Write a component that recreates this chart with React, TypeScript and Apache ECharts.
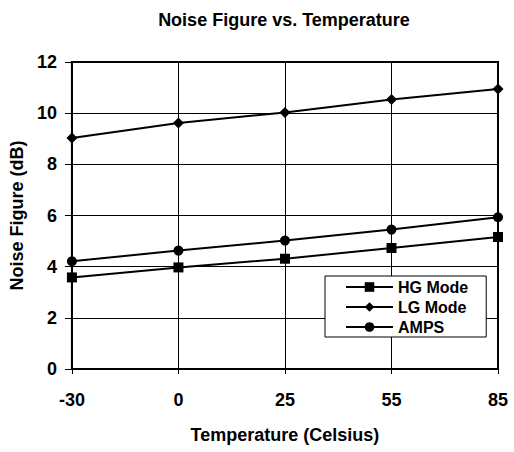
import React, { useEffect, useRef } from "react";
import * as echarts from "echarts";

const categories = ["-30", "0", "25", "55", "85"];
const hgMode = [3.58, 3.97, 4.31, 4.73, 5.16];
const lgMode = [9.03, 9.62, 10.03, 10.53, 10.94];
const amps = [4.21, 4.63, 5.02, 5.45, 5.93];
const seriesNames = ["HG Mode", "LG Mode", "AMPS"];

const FONT = "'Liberation Sans', Arial, sans-serif";

export default function App() {
  const ref = useRef<HTMLDivElement>(null);
  useEffect(() => {
    if (!ref.current) return;
    const chart = echarts.init(ref.current, null, { renderer: "svg" });
    const mk = (name: string, data: number[], symbol: string, size: number) => ({
      name,
      type: "line",
      data,
      symbol,
      symbolSize: size,
      showAllSymbol: true,
      lineStyle: { color: "#000", width: 2 },
      itemStyle: { color: "#000" },
      emphasis: { disabled: true },
    });
    const txt = { fontFamily: FONT, fontWeight: "bold", fontSize: 18, color: "#000" };
    chart.setOption({
      animation: false,
      backgroundColor: "#fff",
      textStyle: { fontFamily: FONT },
      title: {
        text: "Noise Figure vs. Temperature",
        left: 279,
        textAlign: "center",
        top: 6,
        textStyle: txt,
      },
      grid: {
        left: 67,
        right: 16,
        top: 62,
        bottom: 83,
        show: true,
        borderColor: "#000",
        borderWidth: 2,
        backgroundColor: "transparent",
      },
      legend: {
        orient: "vertical",
        left: 325,
        top: 276,
        data: seriesNames,
        itemWidth: 47,
        itemHeight: 12,
        itemGap: 4,
        padding: [3, 18, 2, 20],
        backgroundColor: "#fff",
        borderColor: "#000",
        borderWidth: 1,
        borderRadius: 0,
        textStyle: { fontFamily: FONT, fontWeight: "bold", fontSize: 16, color: "#000", padding: [0, 0, 0, 0] },
      },
      xAxis: {
        type: "category",
        data: categories,
        boundaryGap: false,
        name: "Temperature (Celsius)",
        nameLocation: "middle",
        nameGap: 57,
        nameTextStyle: txt,
        axisLine: { lineStyle: { color: "#000", width: 2 } },
        axisTick: { show: true, length: 5, lineStyle: { color: "#000", width: 1 } },
        axisLabel: { margin: 22, ...txt },
        splitLine: { show: true, lineStyle: { color: "#000", width: 1 } },
      },
      yAxis: {
        type: "value",
        min: 0,
        max: 12,
        interval: 2,
        name: "Noise Figure (dB)",
        nameLocation: "middle",
        nameGap: 34,
        nameTextStyle: txt,
        axisLine: { show: true, lineStyle: { color: "#000", width: 2 } },
        axisTick: { show: true, length: 7, lineStyle: { color: "#000", width: 1 } },
        axisLabel: { margin: 15, ...txt },
        splitLine: { show: true, lineStyle: { color: "#000", width: 1 } },
      },
      series: [
        mk(seriesNames[0], hgMode, "rect", 10),
        mk(seriesNames[1], lgMode, "diamond", 11),
        mk(seriesNames[2], amps, "circle", 10),
      ],
    });
    return () => chart.dispose();
  }, []);
  return (
    <div
      ref={ref}
      style={{ position: "fixed", left: 0, top: 0, width: 514, height: 452, background: "#fff" }}
    />
  );
}
